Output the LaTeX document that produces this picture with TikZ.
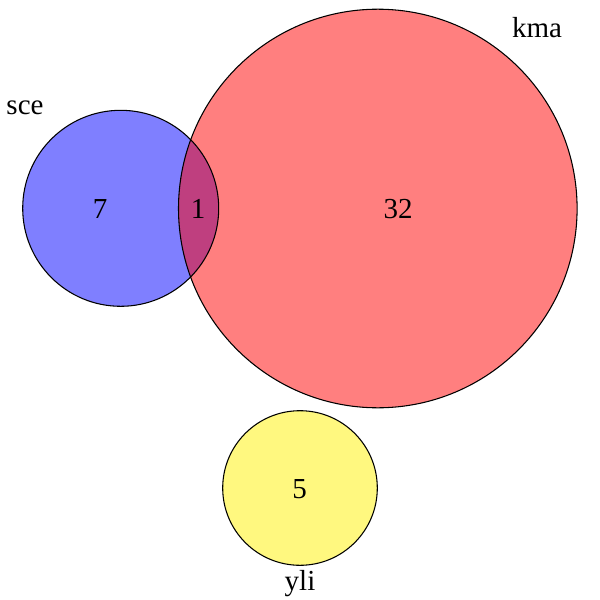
\documentclass[tikz,border=0pt]{standalone}
\usepackage{fontspec}
\setmainfont{Liberation Serif}
\usetikzlibrary{positioning}

\begin{document}
\begin{tikzpicture}[x=0.75pt, y=-0.75pt]
    \def\textsize{21.75}

    \tikzstyle{setfill} = [fill opacity=0.5]
    \tikzstyle{setline} = [draw=black, line width=0.8pt]
    \tikzstyle{count} = [anchor=base, inner sep=0pt, font=\fontsize{\textsize}{26}\selectfont]
    \tikzstyle{setname} = [count]

    \useasboundingbox (0,0) rectangle (600,600);

    % centres, radii and colours of the three sets
    \def\sets{sce/120.7/208.3/98/blue, kma/377.8/208.5/199.3/red, yli/300/488/77.3/yellow}

    % fills first, so that every outline stays on top
    \foreach \name/\x/\y/\r/\col in \sets {
        \coordinate (\name) at (\x, \y);
        \fill [setfill, \col] (\name) circle [radius=\r];
    }
    \foreach \name/\x/\y/\r/\col in \sets {
        \draw [setline] (\name) circle [radius=\r];
    }

    % set names
    \node (sceName) [setname] at (25, 114) {sce};
    \node (kmaName) [setname] at (537, 37.5) {kma};
    \node (yliName) [setname] at (300, 590) {yli};

    % region counts
    \node (sceOnly) [count] at (100, 218) {7};
    \node (sceKma) [count] at (198, 218) {1};
    \node (kmaOnly) [count] at (398, 218) {32};
    \node (yliOnly) [count] at (299.5, 498) {5};
\end{tikzpicture}
\end{document}
